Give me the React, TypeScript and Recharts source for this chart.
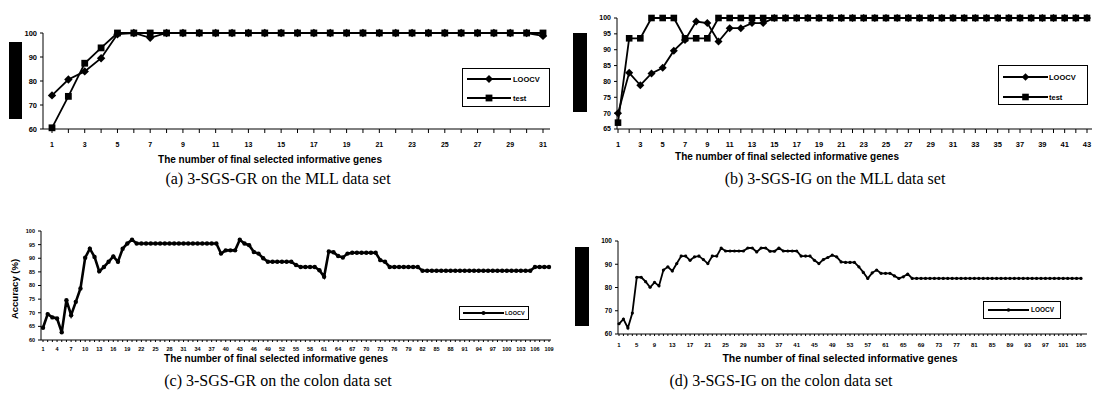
import React from 'react'
import { LineChart, Line, XAxis, YAxis } from 'recharts'

const SANS = '"Liberation Sans", Arial, sans-serif'
const SERIF = '"Liberation Serif", "Times New Roman", serif'

// (a) 3-SGS-GR on MLL
const mllGrGenes = Array.from({ length: 31 }, (_, i) => i + 1)
const mllGrLoocv = [
  74, 80.6, 84, 89.5, 99.5, 100, 98, 100, 100, 100,
  100, 100, 100, 100, 100, 100, 100, 100, 100, 100,
  100, 100, 100, 100, 100, 100, 100, 100, 100, 100,
  98.8,
]
const mllGrTest = [
  60.5, 73.6, 87.4, 93.8, 100, 100, 100, 100, 100, 100,
  100, 100, 100, 100, 100, 100, 100, 100, 100, 100,
  100, 100, 100, 100, 100, 100, 100, 100, 100, 100,
  100,
]

// (b) 3-SGS-IG on MLL
const mllIgGenes = Array.from({ length: 43 }, (_, i) => i + 1)
const mllIgLoocv = [
  70, 82.7, 78.8, 82.5, 84.3, 89.7, 93.1, 98.9, 98.4, 92.6,
  96.8, 96.8, 98.4, 98.4, 100, 100, 100, 100, 100, 100,
  100, 100, 100, 100, 100, 100, 100, 100, 100, 100,
  100, 100, 100, 100, 100, 100, 100, 100, 100, 100,
  100, 100, 100,
]
const mllIgTest = [
  67, 93.6, 93.6, 100, 100, 100, 93.6, 93.6, 93.6, 100,
  100, 100, 100, 100, 100, 100, 100, 100, 100, 100,
  100, 100, 100, 100, 100, 100, 100, 100, 100, 100,
  100, 100, 100, 100, 100, 100, 100, 100, 100, 100,
  100, 100, 100,
]

// (c) 3-SGS-GR on colon
const colonGrGenes = Array.from({ length: 109 }, (_, i) => i + 1)
const colonGrLoocv = [
  64.5, 69.5, 68.3, 67.9, 62.8, 74.6, 69.1, 74.0, 78.9, 90.2,
  93.5, 90.5, 85.2, 86.8, 88.7, 90.7, 88.7, 93.5, 95.4, 96.8,
  95.4, 95.4, 95.4, 95.4, 95.4, 95.4, 95.4, 95.4, 95.4, 95.4,
  95.4, 95.4, 95.4, 95.4, 95.4, 95.4, 95.4, 95.4, 91.7, 92.9,
  92.9, 92.9, 96.8, 95.4, 94.8, 92.3, 91.7, 90.0, 88.7, 88.7,
  88.7, 88.7, 88.7, 88.7, 87.5, 86.8, 86.8, 86.8, 86.8, 85.6,
  83.2, 92.5, 92.2, 90.8, 90.3, 91.7, 92.0, 92.0, 92.0, 92.0,
  92.0, 92.0, 89.3, 88.7, 86.8, 86.8, 86.8, 86.8, 86.8, 86.8,
  86.8, 85.4, 85.4, 85.4, 85.4, 85.4, 85.4, 85.4, 85.4, 85.4,
  85.4, 85.4, 85.4, 85.4, 85.4, 85.4, 85.4, 85.4, 85.4, 85.4,
  85.4, 85.4, 85.4, 85.4, 85.4, 86.8, 86.8, 86.8, 86.8,
]

// (d) 3-SGS-IG on colon
const colonIgGenes = Array.from({ length: 105 }, (_, i) => i + 1)
const colonIgLoocv = [
  64.4, 66.4, 62.6, 69.0, 84.4, 84.4, 82.5, 80.1, 82.2, 80.7,
  87.5, 88.9, 87.1, 90.3, 93.5, 93.5, 91.7, 93.2, 93.5, 92.0,
  90.3, 93.5, 93.5, 97.0, 95.7, 95.7, 95.7, 95.7, 95.7, 97.0,
  97.0, 95.3, 97.0, 97.0, 95.6, 95.6, 97.0, 95.7, 95.7, 95.7,
  95.7, 93.5, 93.5, 93.5, 91.7, 90.3, 92.0, 92.9, 93.9, 93.2,
  91.0, 90.8, 90.8, 90.8, 88.9, 86.5, 83.9, 86.3, 87.5, 86.1,
  86.1, 86.1, 85.0, 83.9, 84.6, 85.8, 83.9, 83.9, 83.9, 83.9,
  83.9, 83.9, 83.9, 83.9, 83.9, 83.9, 83.9, 83.9, 83.9, 83.9,
  83.9, 83.9, 83.9, 83.9, 83.9, 83.9, 83.9, 83.9, 83.9, 83.9,
  83.9, 83.9, 83.9, 83.9, 83.9, 83.9, 83.9, 83.9, 83.9, 83.9,
  83.9, 83.9, 83.9, 83.9, 83.9,
]

const diamondDot = (r: number) => (p: any) => {
  if (p.cx == null || p.cy == null) return <g key={p.index} />
  const { cx, cy } = p
  return <polygon key={p.index} points={`${cx},${cy - r} ${cx + r},${cy} ${cx},${cy + r} ${cx - r},${cy}`} fill="#000" />
}
const squareDot = (r: number) => (p: any) => {
  if (p.cx == null || p.cy == null) return <g key={p.index} />
  return <rect key={p.index} x={p.cx - r} y={p.cy - r} width={r * 2} height={r * 2} fill="#000" />
}
const roundDot = (r: number) => (p: any) => {
  if (p.cx == null || p.cy == null) return <g key={p.index} />
  return <circle key={p.index} cx={p.cx} cy={p.cy} r={r} fill="#000" />
}

const xTick = (every: number, size: number) => (p: any) => {
  const { x, y, payload, index } = p
  if (index % every !== 0) return <g key={index} />
  return (
    <text key={index} x={x} y={y} dy="0.71em" textAnchor="middle" fontSize={size} fontWeight="bold" fontFamily={SANS} fill="#000">
      {payload.value}
    </text>
  )
}

function Panel(props: any) {
  const { left, top, width, height, margin, yWidth, xHeight, data, yDomain, yTicks, every, xFont, yFont, padding, tickMargin, xTickSize, children } = props
  return (
    <div style={{ position: 'absolute', left, top }}>
      <LineChart width={width} height={height} data={data} margin={margin}>
        <XAxis
          dataKey="n"
          interval={0}
          height={xHeight}
          padding={padding}
          tick={xTick(every, xFont)}
          tickSize={xTickSize}
          tickMargin={tickMargin}
          axisLine={{ stroke: '#000' }}
          tickLine={{ stroke: '#000' }}
        />
        <YAxis
          width={yWidth}
          type="number"
          domain={yDomain}
          ticks={yTicks}
          interval={0}
          tick={{ fontSize: yFont, fontWeight: 'bold', fill: '#000', fontFamily: SANS }}
          tickSize={3}
          tickMargin={3}
          axisLine={{ stroke: '#000' }}
          tickLine={{ stroke: '#000' }}
        />
        {children}
      </LineChart>
    </div>
  )
}

function LegendRow({ y, x1, x2, mark, textX, label, font }: any) {
  return (
    <>
      <svg style={{ position: 'absolute', left: 0, top: y - 5 }} width={x2 + 2} height={10}>
        <line x1={x1} y1={5} x2={x2} y2={5} stroke="#000" strokeWidth={1.8} />
        {mark(x1 + (x2 - x1) / 2, 5)}
      </svg>
      <div style={{ position: 'absolute', left: textX, top: y - font * 0.6, fontSize: font, lineHeight: `${font * 1.2}px`, fontWeight: 'bold', fontFamily: SANS }}>
        {label}
      </div>
    </>
  )
}

const box = (left: number, top: number, width: number, height: number): React.CSSProperties => ({
  position: 'absolute', left, top, width, height, border: '1px solid #000', boxSizing: 'border-box', background: '#fff',
})

const Label = ({ x, y, size, bold, serif, children }: any) => (
  <div style={{
    position: 'absolute', left: x, top: y, transform: 'translate(-50%, -50%)', whiteSpace: 'nowrap',
    fontSize: size, fontWeight: bold ? 'bold' : 'normal', fontFamily: serif ? SERIF : SANS, color: '#000',
  }}>
    {children}
  </div>
)

const blackBar = (left: number, top: number, width: number, height: number): React.CSSProperties => ({
  position: 'absolute', left, top, width, height, background: '#000',
})

export default function App() {
  const dataA = mllGrGenes.map((n, i) => ({ n, loocv: mllGrLoocv[i], test: mllGrTest[i] }))
  const dataB = mllIgGenes.map((n, i) => ({ n, loocv: mllIgLoocv[i], test: mllIgTest[i] }))
  const dataC = colonGrGenes.map((n, i) => ({ n, loocv: colonGrLoocv[i] }))
  const dataD = colonIgGenes.map((n, i) => ({ n, loocv: colonIgLoocv[i] }))

  const dia = (r: number) => (cx: number, cy: number) => <polygon points={`${cx},${cy - r} ${cx + r},${cy} ${cx},${cy + r} ${cx - r},${cy}`} fill="#000" />
  const sq = (r: number) => (cx: number, cy: number) => <rect x={cx - r} y={cy - r} width={r * 2} height={r * 2} fill="#000" />
  const dot = (r: number) => (cx: number, cy: number) => <circle cx={cx} cy={cy} r={r} fill="#000" />

  return (
    <div style={{ position: 'absolute', left: 0, top: 0, width: 1097, height: 408, background: '#fff', overflow: 'hidden' }}>
      {/* (a) */}
      <Panel
        left={0} top={0} width={556} height={175}
        margin={{ top: 33, right: 6, left: 0, bottom: 0 }}
        yWidth={43} xHeight={46} data={dataA}
        yDomain={[60, 100]} yTicks={[60, 70, 80, 90, 100]}
        every={2} xFont={7} yFont={7.5} padding={{ left: 9, right: 7 }}
        xTickSize={4} tickMargin={9}
      >
        <Line dataKey="loocv" stroke="#000" strokeWidth={1.8} dot={diamondDot(4.2)} isAnimationActive={false} />
        <Line dataKey="test" stroke="#000" strokeWidth={1.8} dot={squareDot(3.4)} isAnimationActive={false} />
      </Panel>
      <div style={blackBar(9, 42, 13, 77)} />
      <div style={box(462, 68, 88, 39)}>
        <LegendRow y={10} x1={4} x2={48} mark={dia(4)} textX={50} label="LOOCV" font={7.5} />
        <LegendRow y={29} x1={4} x2={48} mark={sq(3.4)} textX={50} label="test" font={7.5} />
      </div>
      <Label x={270} y={159} size={10} bold>The number of final selected informative genes</Label>
      <Label x={278} y={179} size={16} serif>(a) 3-SGS-GR on the MLL data set</Label>

      {/* (b) */}
      <Panel
        left={587} top={0} width={510} height={175}
        margin={{ top: 18, right: 5, left: 0, bottom: 0 }}
        yWidth={30} xHeight={46} data={dataB}
        yDomain={[65, 100]} yTicks={[65, 70, 75, 80, 85, 90, 95, 100]}
        every={2} xFont={7.5} yFont={7} padding={{ left: 1, right: 5 }}
        xTickSize={4} tickMargin={9}
      >
        <Line dataKey="loocv" stroke="#000" strokeWidth={1.8} dot={diamondDot(4)} isAnimationActive={false} />
        <Line dataKey="test" stroke="#000" strokeWidth={1.8} dot={squareDot(3.3)} isAnimationActive={false} />
      </Panel>
      <div style={blackBar(573, 33, 14, 79)} />
      <div style={box(998, 65, 90, 40)}>
        <LegendRow y={11} x1={4} x2={49} mark={dia(3.8)} textX={50} label="LOOCV" font={7.5} />
        <LegendRow y={31} x1={4} x2={49} mark={sq(3.3)} textX={50} label="test" font={7.5} />
      </div>
      <Label x={787} y={156} size={10} bold>The number of final selected informative genes</Label>
      <Label x={835} y={179} size={16} serif>(b) 3-SGS-IG on the MLL data set</Label>

      {/* (c) */}
      <Panel
        left={0} top={195} width={556} height={175}
        margin={{ top: 36, right: 5, left: 0, bottom: 0 }}
        yWidth={41} xHeight={30} data={dataC}
        yDomain={[60, 100]} yTicks={[60, 65, 70, 75, 80, 85, 90, 95, 100]}
        every={3} xFont={5.5} yFont={5.5} padding={{ left: 2, right: 2 }}
        xTickSize={2} tickMargin={5}
      >
        <Line dataKey="loocv" stroke="#000" strokeWidth={2.6} dot={roundDot(2.2)} isAnimationActive={false} />
      </Panel>
      <div style={{ position: 'absolute', left: 14, top: 289, transform: 'translate(-50%, -50%) rotate(-90deg)', whiteSpace: 'nowrap', fontSize: 9.5, fontWeight: 'bold', fontFamily: SANS }}>
        Accuracy (%)
      </div>
      <div style={box(459, 306, 70, 14)}>
        <LegendRow y={6} x1={3} x2={44} mark={dot(2)} textX={45} label="LOOCV" font={5.5} />
      </div>
      <Label x={276} y={358} size={10} bold>The number of final selected informative genes</Label>
      <Label x={278} y={381} size={16} serif>(c) 3-SGS-GR on the colon data set</Label>

      {/* (d) */}
      <Panel
        left={590} top={195} width={502} height={175}
        margin={{ top: 46, right: 5, left: 0, bottom: 0 }}
        yWidth={28} xHeight={36} data={dataD}
        yDomain={[60, 100]} yTicks={[60, 70, 80, 90, 100]}
        every={4} xFont={6} yFont={6.5} padding={{ left: 1, right: 6 }}
        xTickSize={2} tickMargin={7}
      >
        <Line dataKey="loocv" stroke="#000" strokeWidth={1.8} dot={roundDot(1.6)} isAnimationActive={false} />
      </Panel>
      <div style={blackBar(575, 247, 14, 79)} />
      <div style={box(983, 301, 78, 18)}>
        <LegendRow y={8} x1={4} x2={45} mark={dot(1.8)} textX={47} label="LOOCV" font={6.5} />
      </div>
      <Label x={840} y={358} size={10.5} bold>The number of final selected informative genes</Label>
      <Label x={781} y={381} size={16} serif>(d) 3-SGS-IG on the colon data set</Label>
    </div>
  )
}
